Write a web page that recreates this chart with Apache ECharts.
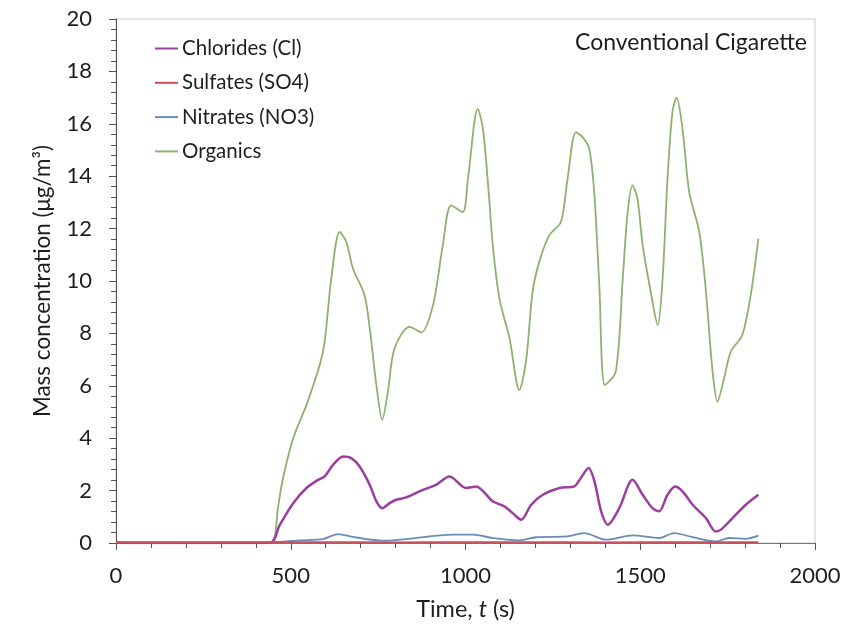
<!DOCTYPE html>
<html>
<head>
<meta charset="utf-8">
<script src="https://cdn.jsdelivr.net/npm/echarts@6/dist/echarts.min.js"></script>
<style>html,body{margin:0;padding:0;background:#fff;}#c{width:864px;height:626px;}</style>
</head>
<body>
<div id="c"></div>
<script>
var xTicks = [0, 500, 1000, 1500, 2000];
var yTicks = [0, 2, 4, 6, 8, 10, 12, 14, 16, 18, 20];

var chlorides = [[0,0],[440,0],[469,0.7],[507,1.52],[545,2.1],[578,2.41],[597,2.54],[621,2.98],[650,3.3],[673,3.24],[697,2.92],[726,2.22],[745,1.59],[762,1.33],[783,1.52],[802,1.65],[830,1.74],[878,2.03],[916,2.22],[954,2.54],[1002,2.1],[1030,2.16],[1078,1.59],[1111,1.4],[1135,1.14],[1159,0.89],[1188,1.46],[1221,1.84],[1269,2.1],[1311,2.16],[1330,2.48],[1352,2.86],[1369,2.35],[1388,1.21],[1407,0.7],[1440,1.33],[1478,2.41],[1507,1.84],[1535,1.33],[1554,1.21],[1578,1.84],[1600,2.16],[1621,1.97],[1650,1.46],[1688,0.95],[1716,0.44],[1731,0.51],[1764,0.95],[1802,1.46],[1838,1.84]];

var sulfates = [[0,0.03],[200,0.02],[400,0.03],[600,0.03],[800,0.02],[1000,0.03],[1200,0.03],[1400,0.02],[1600,0.03],[1838,0.03]];

var nitrates = [[0,0.02],[100,0.03],[300,0.01],[420,0.02],[478,0.05],[526,0.1],[592,0.15],[635,0.34],[678,0.23],[764,0.09],[859,0.19],[926,0.29],[964,0.32],[1021,0.32],[1078,0.19],[1154,0.1],[1202,0.22],[1288,0.25],[1340,0.38],[1402,0.13],[1478,0.29],[1554,0.19],[1597,0.38],[1650,0.22],[1716,0.06],[1754,0.19],[1802,0.16],[1838,0.28]];

var organics = [[0,0],[420,0],[449,0.05],[464,1.4],[478,2.48],[507,4.0],[545,5.27],[583,6.8],[597,7.68],[616,10.1],[640,11.87],[659,11.49],[678,10.48],[711,9.46],[726,8.19],[745,6.03],[762,4.7],[778,5.78],[797,7.43],[840,8.25],[873,8.04],[907,9.08],[935,11.36],[959,12.89],[992,12.63],[1007,13.9],[1035,16.57],[1050,15.8],[1067,13.27],[1078,11.36],[1097,9.33],[1126,7.81],[1154,5.84],[1173,6.92],[1192,9.59],[1211,10.73],[1240,11.75],[1273,12.25],[1292,13.9],[1316,15.68],[1335,15.49],[1354,15.05],[1369,13.27],[1383,9.8],[1399,6.03],[1430,6.54],[1450,10.1],[1464,12.63],[1478,13.65],[1492,13.14],[1507,11.36],[1530,9.59],[1550,8.32],[1564,10.1],[1578,13.9],[1592,16.44],[1604,17.0],[1621,15.8],[1640,13.4],[1669,11.87],[1688,9.59],[1707,6.54],[1721,5.4],[1740,6.29],[1759,7.3],[1792,7.94],[1816,9.46],[1838,11.62]];

var FONT = 'Lato';
var TXT = '#1e1e1e';
var chart = echarts.init(document.getElementById('c'), null, {renderer: 'canvas'});
chart.setOption({
  animation: false,
  backgroundColor: '#fff',
  title: {
    text: 'Conventional Cigarette',
    right: 52, top: 26,
    textStyle: {fontFamily: FONT, fontSize: 23, fontWeight: 'normal', color: TXT}
  },
  legend: {
    orient: 'vertical',
    left: 155, top: 38, padding: 0,
    icon: 'rect',
    itemWidth: 23, itemHeight: 2, itemGap: 13.3,
    textStyle: {fontFamily: FONT, fontSize: 20.5, color: TXT, padding: [0,0,0,-1]},
    data: ['Chlorides (Cl)', 'Sulfates (SO4)', 'Nitrates (NO3)', 'Organics']
  },
  grid: {left: 116, right: 49, top: 19, bottom: 81, show: true, borderColor: '#c8c8c8', borderWidth: 1},
  xAxis: {
    type: 'value', min: 0, max: 2000, interval: 500,
    name: '{a|Time, }{b|t}{a| (s)}',
    nameLocation: 'middle', nameGap: 54,
    nameTextStyle: {rich: {a: {fontFamily: FONT, fontSize: 23.5, color: TXT}, b: {fontFamily: FONT, fontSize: 23.5, color: TXT, fontStyle: 'italic'}}},
    axisLine: {lineStyle: {color: '#777', width: 1}},
    axisTick: {show: true, inside: false, length: 7, lineStyle: {color: '#555'}},
    minorTick: {show: true, splitNumber: 5, length: 5, lineStyle: {color: '#555'}},
    splitLine: {show: false},
    axisLabel: {fontFamily: FONT, fontSize: 22, color: TXT, margin: 22,
      formatter: function (v) { return xTicks.indexOf(v) >= 0 ? String(v) : ''; }}
  },
  yAxis: {
    type: 'value', min: 0, max: 20, interval: 2,
    name: 'Mass concentration (μg/m³)',
    nameLocation: 'middle', nameGap: 62,
    nameTextStyle: {fontFamily: FONT, fontSize: 22.5, color: TXT},
    axisLine: {show: true, lineStyle: {color: '#555', width: 1}},
    axisTick: {show: true, inside: false, length: 7, lineStyle: {color: '#555'}},
    minorTick: {show: true, splitNumber: 5, length: 5, lineStyle: {color: '#555'}},
    splitLine: {show: false},
    axisLabel: {fontFamily: FONT, fontSize: 22, color: TXT, margin: 24,
      formatter: function (v) { return yTicks.indexOf(v) >= 0 ? String(v) : ''; }}
  },
  series: [
    {name: 'Chlorides (Cl)', type: 'line', data: chlorides, symbol: 'none', smooth: 0.3, z: 4,
      lineStyle: {color: '#9a3f9e', width: 2.5}, itemStyle: {color: '#9a3f9e'}},
    {name: 'Sulfates (SO4)', type: 'line', data: sulfates, symbol: 'none', smooth: 0.3, z: 5,
      lineStyle: {color: '#c9505c', width: 2}, itemStyle: {color: '#c9505c'}},
    {name: 'Nitrates (NO3)', type: 'line', data: nitrates, symbol: 'none', smooth: 0.3, z: 3,
      lineStyle: {color: '#6a8cb8', width: 1.8}, itemStyle: {color: '#6a8cb8'}},
    {name: 'Organics', type: 'line', data: organics, symbol: 'none', smooth: 0.3, z: 2,
      lineStyle: {color: '#8cb26c', width: 1.8}, itemStyle: {color: '#8cb26c'}}
  ]
});
</script>
</body>
</html>
